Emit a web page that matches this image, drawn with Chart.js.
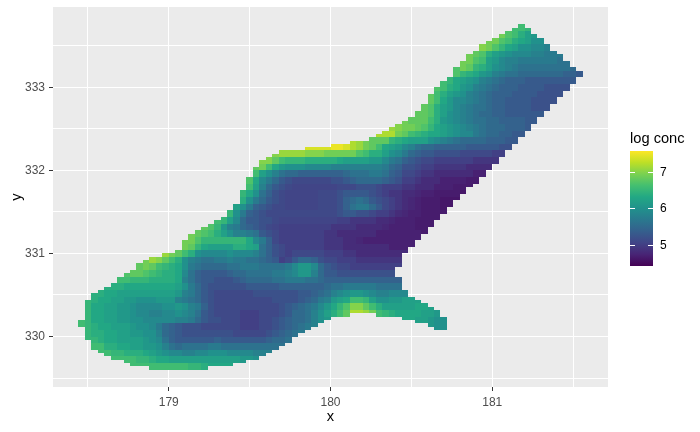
<!DOCTYPE html>
<html>
<head>
<meta charset="utf-8">
<style>
    html, body { margin: 0; padding: 0; background: #fff; }
    #wrap { position: relative; width: 700px; height: 432px; }
</style>
<script src="https://cdn.jsdelivr.net/npm/chart.js@4"></script>
</head>
<body>
<div id="wrap"><canvas id="raster-chart" width="700" height="432"></canvas></div>
<script>
const xOrigin = 178.46;
const yOrigin = 329.62;
const cellSize = 0.04;

const xTicks = [178.5, 179, 179.5, 180, 180.5, 181, 181.5];
const yTicks = [329.5, 330, 330.5, 331, 331.5, 332, 332.5, 333, 333.5];
const xLabels = ["179", "180", "181"];
const yLabels = ["330", "331", "332", "333"];
const legendTicks = [5, 6, 7];
const legendMin = 4.406;
const legendMax = 7.59;

// first and last grid column of every grid row, bottom row first
const rowFirst = [11,8,7,5,4,3,2,2,2,1,1,1,1,0,0,1,1,1,1,1,1,2,2,3,4,5,6,6,7,8,9,9,10,11,13,15,16,16,16,17,17,18,19,20,21,22,23,23,24,24,25,25,25,25,26,26,26,26,27,27,27,28,28,29,30,31,35,39,42,45,46,47,48,49,50,51,52,52,53,53,54,54,54,55,55,56,56,57,58,58,58,59,59,60,60,61,62,62,63,64,65,66,67,68];
const rowLast = [19,23,25,27,28,29,30,31,32,32,33,34,56,56,56,56,55,55,54,53,52,51,50,50,49,49,49,49,48,48,48,49,49,49,49,50,50,51,51,52,52,53,53,54,54,55,55,56,56,57,57,58,58,59,59,60,61,61,62,62,63,63,64,64,65,65,66,66,67,67,68,68,69,69,70,70,71,71,72,72,73,73,74,74,75,75,76,76,77,77,76,75,75,74,74,73,72,72,71,71,70,69,69,68];

// the notch between the two arms at the bottom
const gapRows = [12, 13, 14, 15, 16];
const gapFirst = [36, 37, 38, 39, 42];
const gapLast = [54, 53, 51, 49, 45];

// log conc, one list per pair of grid rows
const logConc = [
    [6.6,6.6,6.6,6.6,6.6,6.6,6.6,6.6,6.6,6.5,6.5,6.4,6.3,6.3,6.3,6.3],
    [6.6,6.6,6.6,6.6,6.5,6.5,6.4,6.3,6.3,6.2,6.2,6.2,6.2,6.2,6.2,6.2,6.2,6.2,6.2,6.2,6.1,6.1,6.0],
    [6.6,6.6,6.5,6.5,6.4,6.4,6.4,6.3,6.2,6.1,6.0,5.9,5.9,5.8,5.8,5.9,5.9,6.0,6.0,6.0,5.9,5.9,5.9,5.9,5.8,5.8,5.8],
    [6.6,6.6,6.4,6.4,6.3,6.3,6.2,6.2,6.1,6.1,6.0,5.8,5.6,5.5,5.6,5.6,5.6,5.6,5.7,5.7,5.6,5.6,5.6,5.6,5.6,5.6,5.6,5.6,5.6,5.6],
    [6.5,6.5,6.4,6.3,6.3,6.2,6.2,6.2,6.2,6.1,6.0,5.9,5.6,5.4,5.3,5.3,5.3,5.3,5.3,5.3,5.4,5.3,5.3,5.3,5.3,5.3,5.3,5.3,5.4,5.5,5.5,5.6],
    [6.5,6.4,6.4,6.3,6.3,6.2,6.2,6.1,6.1,6.0,6.0,5.8,5.5,5.4,5.3,5.2,5.2,5.2,5.2,5.2,5.2,5.2,5.2,5.1,5.1,5.1,5.1,5.1,5.2,5.3,5.4,5.5,5.6,5.7],
    [6.6,6.5,6.4,6.3,6.3,6.2,6.2,6.2,6.1,6.0,6.0,5.9,5.7,5.5,5.4,5.3,5.2,5.2,5.2,5.1,5.1,5.1,5.1,5.1,5.1,5.0,5.0,5.0,5.1,5.1,5.2,5.3,5.4,5.5,5.6,5.7,5.8,null,null,null,null,null,null,null,null,null,null,null,null,null,null,null,null,null,6.1,6.0,6.0],
    [6.6,6.5,6.3,6.3,6.2,6.2,6.1,6.1,6.0,6.0,5.9,5.9,5.9,5.9,5.9,5.8,5.8,5.7,5.5,5.3,5.2,5.2,5.1,5.1,5.1,5.0,5.0,5.0,5.1,5.1,5.2,5.3,5.4,5.5,5.5,5.6,5.8,6.0,6.1,null,null,null,null,null,null,null,null,null,null,null,6.3,6.3,6.2,6.2,6.1,6.0,6.0],
    [6.5,6.3,6.3,6.2,6.2,6.1,6.1,6.0,5.9,5.9,5.8,5.8,5.9,5.9,6.0,5.9,5.8,5.6,5.3,5.2,5.1,5.1,5.1,5.1,5.0,5.0,5.0,5.1,5.1,5.1,5.2,5.3,5.5,5.5,5.6,5.8,6.0,6.2,6.4,6.6,6.8,7.2,7.2,7.1,6.9,6.6,6.5,6.4,6.3,6.3,6.3,6.3,6.2,6.2,6.1],
    [6.5,6.3,6.3,6.2,6.2,6.1,6.1,6.0,5.9,5.9,5.9,5.9,6.0,6.0,6.1,6.0,5.8,5.7,5.4,5.2,5.1,5.1,5.1,5.1,5.1,5.1,5.1,5.1,5.1,5.1,5.2,5.3,5.4,5.5,5.6,5.7,5.9,6.1,6.3,6.5,6.7,7.0,7.0,6.8,6.6,6.4,6.2,6.2,6.2,6.2,6.2,6.3,6.3,6.2],
    [6.5,6.4,6.3,6.3,6.2,6.2,6.1,6.1,6.0,6.0,6.0,6.1,6.1,6.1,5.8,5.7,5.6,5.5,5.3,5.2,5.1,5.1,5.1,5.1,5.1,5.1,5.1,5.1,5.1,5.2,5.2,5.2,5.2,5.3,5.4,5.5,5.7,5.8,6.1,6.2,6.3,6.6,6.6,6.5,6.2,6.0,6.0,6.1,6.1,6.2,6.2,6.2],
    [6.4,6.4,6.3,6.3,6.2,6.2,6.2,6.2,6.2,6.2,6.2,6.2,6.2,6.1,5.8,5.7,5.5,5.3,5.2,5.1,5.1,5.1,5.1,5.1,5.1,5.2,5.2,5.2,5.2,5.2,5.2,5.2,5.3,5.3,5.4,5.5,5.6,5.8,5.9,6.0,6.1,6.1,6.0,5.9,5.8,5.8,5.9,5.9,5.9],
    [6.4,6.4,6.4,6.3,6.3,6.3,6.3,6.3,6.3,6.3,6.3,6.2,6.0,5.7,5.5,5.3,5.2,5.2,5.2,5.2,5.2,5.2,5.3,5.3,5.3,5.3,5.3,5.4,5.4,5.4,5.4,5.4,5.4,5.4,5.5,5.6,5.6,5.7,5.7,5.7,5.7,5.7,5.6,5.6,5.6,5.6],
    [6.6,6.6,6.5,6.5,6.5,6.4,6.4,6.4,6.4,6.3,5.8,5.6,5.4,5.3,5.3,5.2,5.2,5.2,5.3,5.4,5.5,5.5,5.5,5.5,5.6,5.6,5.7,5.7,5.7,5.6,5.6,5.5,5.4,5.4,5.4,5.4,5.4,5.4,5.4,5.4,5.4,5.4,5.4,5.4],
    [6.7,6.8,6.8,6.7,6.6,6.5,6.4,6.4,6.3,5.9,5.6,5.4,5.3,5.3,5.3,5.3,5.4,5.5,5.5,5.6,5.6,5.6,5.6,5.7,5.7,5.8,5.9,6.1,6.1,5.8,5.5,5.3,5.3,5.2,5.2,5.2,5.2,5.2,5.2,5.2,5.2,5.2],
    [6.8,6.9,6.8,6.6,6.5,6.4,6.3,6.0,5.7,5.6,5.5,5.5,5.5,5.5,5.6,5.6,5.7,5.7,5.7,5.6,5.6,5.6,5.6,5.7,5.9,6.1,6.1,5.9,5.5,5.3,5.2,5.1,5.1,5.0,5.0,5.0,5.0,5.0,5.0,5.0,5.0],
    [6.9,7.1,7.0,6.8,6.6,6.4,6.0,5.8,5.7,5.6,5.6,5.7,5.7,5.8,5.7,5.7,5.6,5.6,5.5,5.4,5.3,5.0,5.1,5.3,5.5,5.5,5.4,5.2,5.1,5.1,5.0,5.0,5.0,4.9,4.9,4.9,4.9,4.9,4.9,4.9],
    [7.1,6.9,6.8,6.6,6.4,6.0,5.9,5.9,5.9,5.9,6.0,5.9,5.9,5.9,5.8,5.6,5.4,5.2,5.1,5.0,5.1,5.1,5.1,5.1,5.1,5.0,5.0,5.0,4.9,4.9,4.8,4.8,4.8,4.8,4.8,4.8,4.8,4.8],
    [6.9,6.8,6.5,6.3,6.2,6.2,6.2,6.2,6.4,6.4,6.3,6.2,5.6,5.4,5.2,5.1,5.0,5.0,5.0,5.0,5.0,5.0,4.9,4.9,4.9,4.8,4.8,4.8,4.8,4.8,4.8,4.8,4.7,4.7,4.7,4.7],
    [6.9,6.9,6.7,6.5,6.5,6.5,6.5,6.5,6.5,6.5,6.3,5.9,5.7,5.4,5.1,5.0,5.0,5.0,5.0,5.0,5.0,5.0,4.9,4.9,4.9,4.8,4.8,4.75,4.7,4.7,4.7,4.7,4.7,4.7,4.7,4.7,4.7],
    [6.9,6.8,6.7,6.6,6.4,6.2,6.0,5.8,5.8,5.7,5.6,5.3,5.2,5.1,5.0,5.0,5.0,5.0,5.0,5.0,5.0,4.9,4.9,4.8,4.8,4.8,4.8,4.8,4.8,4.7,4.7,4.7,4.7,4.7,4.7,4.7,4.65],
    [6.8,6.7,6.5,6.1,5.8,5.7,5.5,5.4,5.3,5.2,5.1,5.05,5.0,5.0,5.0,5.0,5.0,5.0,5.0,5.0,4.9,4.9,4.9,4.9,4.8,4.8,4.8,4.8,4.75,4.7,4.7,4.7,4.7,4.65,4.65,4.65],
    [6.6,6.5,6.2,5.9,5.5,5.3,5.3,5.2,5.2,5.1,5.05,5.05,5.05,5.05,5.05,5.05,5.05,5.05,5.05,5.0,5.0,4.9,4.9,4.9,4.9,4.8,4.8,4.75,4.7,4.7,4.7,4.65,4.65,4.65,4.65],
    [6.5,6.0,5.7,5.4,5.3,5.2,5.1,5.1,5.1,5.1,5.1,5.1,5.1,5.1,5.1,5.1,5.1,5.2,5.3,5.3,5.2,5.2,5.1,5.0,5.0,4.9,4.8,4.75,4.7,4.7,4.65,4.65,4.65,4.65],
    [6.2,6.0,5.7,5.4,5.3,5.2,5.1,5.1,5.05,5.05,5.05,5.05,5.05,5.1,5.1,5.1,5.2,5.4,5.6,5.7,5.7,5.5,5.3,5.1,5.0,4.9,4.8,4.75,4.7,4.65,4.65,4.65,4.6,4.6],
    [6.4,6.0,5.7,5.5,5.3,5.2,5.1,5.05,5.05,5.05,5.05,5.05,5.1,5.1,5.1,5.2,5.4,5.5,5.6,5.5,5.3,5.2,5.1,5.0,4.9,4.8,4.75,4.7,4.65,4.65,4.65,4.6,4.6,4.6],
    [6.5,6.3,6.0,5.6,5.4,5.2,5.1,5.05,5.05,5.05,5.05,5.05,5.1,5.1,5.1,5.2,5.3,5.3,5.3,5.3,5.2,5.1,5.0,4.9,4.9,4.8,4.8,4.75,4.7,4.7,4.65,4.65,4.65,4.65,4.6],
    [6.6,6.2,5.8,5.5,5.3,5.2,5.1,5.05,5.05,5.05,5.05,5.05,5.05,5.05,5.1,5.1,5.1,5.2,5.2,5.2,5.1,5.0,5.0,5.0,4.9,4.9,4.8,4.8,4.8,4.7,4.7,4.7,4.65,4.65,4.65],
    [6.7,6.3,5.9,5.7,5.5,5.3,5.2,5.1,5.1,5.1,5.1,5.1,5.1,5.2,5.2,5.3,5.4,5.5,5.5,5.5,5.5,5.4,5.3,5.2,5.0,5.0,4.9,4.8,4.8,4.8,4.7,4.7,4.7,4.7,4.65,4.65],
    [6.6,6.2,6.0,5.8,5.6,5.5,5.5,5.4,5.4,5.4,5.4,5.4,5.4,5.4,5.5,5.6,5.6,5.6,5.7,5.7,5.6,5.4,5.3,5.1,5.1,5.0,4.9,4.9,4.8,4.8,4.8,4.8,4.8,4.8,4.7,4.7],
    [6.8,6.9,6.6,6.3,6.1,6.0,6.0,6.0,5.9,5.9,5.9,5.9,5.8,5.8,5.8,5.8,5.8,5.8,5.8,5.8,5.7,5.5,5.4,5.2,5.2,5.1,5.0,5.0,4.9,4.9,4.9,4.9,4.9,4.8,4.8,4.8,4.8],
    [7.0,7.0,6.8,6.6,6.5,6.5,6.5,6.4,6.4,6.4,6.4,6.4,6.3,6.2,6.2,6.2,6.2,6.1,6.1,5.9,5.7,5.6,5.4,5.3,5.2,5.1,5.1,5.0,5.0,5.0,5.0,5.0,5.0,4.9,4.9,4.9,4.9],
    [7.0,7.1,7.1,7.1,7.1,7.0,7.0,7.0,6.9,6.9,6.9,6.9,6.9,6.7,6.6,6.4,6.4,6.2,6.0,5.9,5.7,5.5,5.4,5.3,5.3,5.2,5.2,5.2,5.2,5.1,5.1,5.1,5.1,5.1,5.0,5.0],
    [7.4,7.4,7.4,7.4,7.5,7.5,7.4,7.2,7.1,6.9,6.8,6.6,6.3,6.2,6.1,5.9,5.8,5.6,5.5,5.5,5.4,5.4,5.4,5.4,5.4,5.3,5.3,5.3,5.3,5.3,5.2,5.2],
    [7.2,7.1,6.9,6.8,6.8,6.8,6.5,6.4,6.3,6.2,6.2,6.2,6.0,5.9,5.8,5.7,5.6,5.5,5.5,5.5,5.5,5.4,5.4,5.4,5.3,5.3],
    [7.2,7.2,7.2,6.9,6.8,6.6,6.5,6.4,6.3,6.3,6.2,6.1,6.0,5.9,5.9,5.7,5.6,5.5,5.5,5.4,5.4,5.3,5.3],
    [7.1,7.0,6.9,6.9,6.8,6.7,6.5,6.3,6.2,6.1,6.0,5.9,5.8,5.7,5.6,5.5,5.5,5.5,5.4,5.4,5.4,5.3],
    [6.9,6.8,6.8,6.8,6.6,6.4,6.1,6.0,5.9,5.8,5.7,5.6,5.6,5.5,5.5,5.4,5.4,5.4,5.4,5.3,5.3],
    [6.8,6.8,6.7,6.4,6.2,6.0,5.9,5.8,5.7,5.6,5.5,5.5,5.4,5.4,5.3,5.3,5.3,5.3,5.3,5.3],
    [6.8,6.7,6.4,6.2,6.1,5.9,5.8,5.7,5.6,5.6,5.5,5.4,5.4,5.3,5.3,5.3,5.3,5.2,5.2,5.2],
    [6.8,6.6,6.3,6.1,5.9,5.9,5.8,5.7,5.6,5.5,5.4,5.4,5.3,5.3,5.3,5.3,5.2,5.2,5.2,5.2],
    [6.8,6.6,6.4,6.2,6.1,6.0,5.8,5.7,5.6,5.5,5.4,5.4,5.4,5.3,5.3,5.3,5.3,5.2,5.2,5.2,5.2],
    [6.7,6.6,6.4,6.3,6.1,6.0,5.8,5.7,5.6,5.5,5.4,5.4,5.4,5.3,5.3,5.3,5.3,5.2,5.2,5.2,5.2],
    [6.6,6.5,6.3,6.2,6.1,6.0,5.8,5.7,5.6,5.5,5.4,5.4,5.4,5.3,5.3,5.3,5.3,5.3,5.3,5.3,5.3],
    [6.7,6.5,6.4,6.3,6.1,6.0,5.8,5.7,5.6,5.6,5.5,5.5,5.5,5.5,5.5,5.5,5.5,5.4,5.4,5.3],
    [6.7,6.9,6.8,6.5,6.4,6.2,6.0,5.9,5.8,5.7,5.6,5.6,5.6,5.6,5.6,5.6,5.6,5.6,5.5],
    [6.9,6.9,6.7,6.6,6.2,6.1,5.9,5.8,5.8,5.7,5.7,5.7,5.7,5.7,5.7,5.6,5.6],
    [6.9,6.8,6.7,6.4,6.2,6.1,6.0,5.9,5.9,5.9,5.8,5.8,5.7,5.7,5.7],
    [7.0,6.9,6.7,6.5,6.3,6.2,6.0,6.0,5.9,5.9,5.8],
    [6.9,6.9,6.7,6.6,6.4,6.3,6.2,6.0,6.0],
    [6.9,6.7,6.6,6.4,6.2,6.1],
    [6.6,6.6,6.5]
];

const viridisStops = ["#440154", "#482475", "#414487", "#355f8d", "#2a788e", "#21918c", "#22a884", "#44bf70", "#7ad151", "#bddf26", "#fde725"];

const hexToRgb = (hex) => [1, 3, 5].map((i) => parseInt(hex.slice(i, i + 2), 16));

const fillColor = (value) => {
    const t = Math.min(1, Math.max(0, (value - legendMin) / (legendMax - legendMin))) * (viridisStops.length - 1);
    const i = Math.min(viridisStops.length - 2, Math.floor(t));
    const a = hexToRgb(viridisStops[i]);
    const b = hexToRgb(viridisStops[i + 1]);
    const rgb = a.map((c, k) => Math.round(c + (b[k] - c) * (t - i)));
    return `rgb(${rgb[0]}, ${rgb[1]}, ${rgb[2]})`;
};

// one point per grid cell
const cells = [];
rowFirst.forEach((first, row) => {
    const band = Math.floor(row / 2);
    const bandStart = Math.min(rowFirst[band * 2], rowFirst[band * 2 + 1]);
    const gap = gapRows.indexOf(row);
    for (let col = first; col <= rowLast[row]; col++) {
        if (gap >= 0 && col >= gapFirst[gap] && col <= gapLast[gap]) continue;
        const value = logConc[band][col - bandStart];
        if (value == null) continue;
        cells.push({ x: xOrigin + col * cellSize, y: yOrigin + row * cellSize, v: value });
    }
});

const panelBackground = {
    id: "panelBackground",
    beforeDraw(chart) {
        const { ctx, chartArea: a } = chart;
        ctx.save();
        ctx.fillStyle = "#EBEBEB";
        ctx.fillRect(a.left, a.top, a.right - a.left, a.bottom - a.top);
        ctx.restore();
    },
};

const rasterCells = {
    id: "rasterCells",
    afterDatasetsDraw(chart) {
        const { ctx, scales } = chart;
        ctx.save();
        chart.data.datasets[0].data.forEach((cell) => {
            const left = Math.round(scales.x.getPixelForValue(cell.x - cellSize / 2));
            const right = Math.round(scales.x.getPixelForValue(cell.x + cellSize / 2));
            const top = Math.round(scales.y.getPixelForValue(cell.y + cellSize / 2));
            const bottom = Math.round(scales.y.getPixelForValue(cell.y - cellSize / 2));
            ctx.fillStyle = fillColor(cell.v);
            ctx.fillRect(left, top, right - left, bottom - top);
        });
        ctx.restore();
    },
};

const colorBar = {
    id: "colorBar",
    afterDraw(chart) {
        const { ctx } = chart;
        const barLeft = 630, barRight = 653, barTop = 151, barBottom = 266;
        const pixelFor = (v) => barBottom - (v - legendMin) / (legendMax - legendMin) * (barBottom - barTop);
        ctx.save();
        const gradient = ctx.createLinearGradient(0, barBottom, 0, barTop);
        viridisStops.forEach((c, i) => gradient.addColorStop(i / (viridisStops.length - 1), c));
        ctx.fillStyle = gradient;
        ctx.fillRect(barLeft, barTop, barRight - barLeft, barBottom - barTop);

        ctx.fillStyle = "#000";
        ctx.textBaseline = "alphabetic";
        ctx.font = '14.67px "Liberation Sans"';
        ctx.fillText("log conc", 630, 143);
        ctx.font = '12px "Liberation Sans"';
        ctx.textBaseline = "middle";
        legendTicks.forEach((t) => {
            const y = Math.round(pixelFor(t));
            ctx.fillStyle = "#fff";
            ctx.fillRect(barLeft, y, 5, 1);
            ctx.fillRect(barRight - 5, y, 5, 1);
            ctx.fillStyle = "#000";
            ctx.fillText(String(t), 660, y + 1);
        });
        ctx.restore();
    },
};

const axisOptions = (positions, labels, min, max, title, titleGap) => ({
    type: "linear",
    min: min,
    max: max,
    title: {
        display: true,
        text: title,
        color: "#000",
        font: { family: "Liberation Sans", size: 14.67 },
        padding: { top: titleGap, bottom: titleGap },
    },
    border: { display: false },
    grid: {
        color: "#fff",
        lineWidth: 1,
        tickLength: 4,
        tickColor: (ctx) => (ctx.tick && labels.includes(String(ctx.tick.value)) ? "#333333" : "rgba(0,0,0,0)"),
    },
    ticks: {
        autoSkip: false,
        maxRotation: 0,
        color: "#4D4D4D",
        padding: 4,
        font: { family: "Liberation Sans", size: 12 },
        callback: (value) => (labels.includes(String(value)) ? String(value) : ""),
    },
    afterBuildTicks: (scale) => {
        scale.ticks = positions.map((value) => ({ value }));
    },
});

const xAxis = axisOptions(xTicks, xLabels, 178.284, 181.716, "x", 6);
xAxis.afterFit = (scale) => {
    scale.height = 45;
    scale.paddingLeft = 0;
    scale.paddingRight = 0;
};

const yAxis = axisOptions(yTicks, yLabels, 329.392, 333.968, "y", 8);
yAxis.afterFit = (scale) => {
    scale.width = 53;
    scale.paddingTop = 0;
    scale.paddingBottom = 0;
};

new Chart(document.getElementById("raster-chart").getContext("2d"), {
    type: "scatter",
    data: {
        datasets: [{ label: "log conc", data: cells, pointRadius: 0, pointHoverRadius: 0 }],
    },
    options: {
        responsive: false,
        animation: false,
        events: [],
        layout: { padding: { top: 7, right: 92, bottom: 0, left: 0 } },
        plugins: { legend: { display: false }, tooltip: { enabled: false } },
        scales: { x: xAxis, y: yAxis },
    },
    plugins: [panelBackground, rasterCells, colorBar],
});
</script>
</body>
</html>
